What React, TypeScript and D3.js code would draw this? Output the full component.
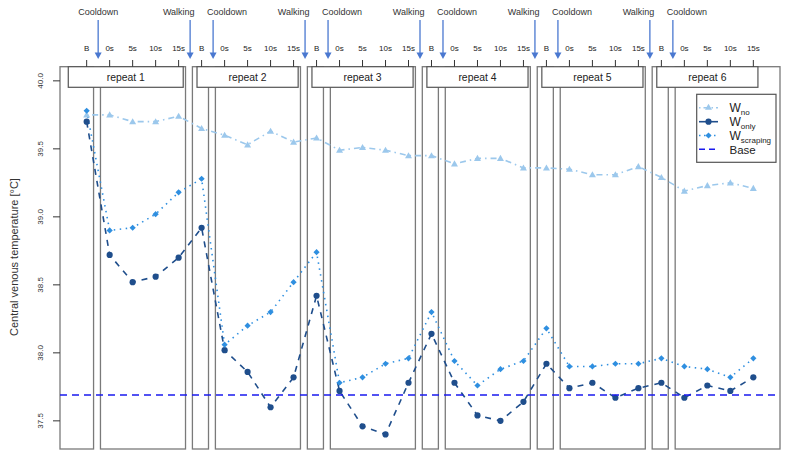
import React from "react";
import * as d3 from "d3";

const repeats = ["repeat 1", "repeat 2", "repeat 3", "repeat 4", "repeat 5", "repeat 6"];
const tickLabels = ["B", "0s", "5s", "10s", "15s"];
const yTicks = [37.5, 38.0, 38.5, 39.0, 39.5, 40.0];

const wNo = [
  39.75, 39.75, 39.70, 39.70, 39.74,
  39.65, 39.60, 39.53, 39.63, 39.55,
  39.58, 39.49, 39.51, 39.49, 39.45,
  39.45, 39.39, 39.43, 39.43, 39.36,
  39.36, 39.35, 39.31, 39.31, 39.37,
  39.29, 39.19, 39.23, 39.25, 39.21,
];
const wOnly = [
  39.70, 38.72, 38.52, 38.56, 38.70,
  38.92, 38.02, 37.86, 37.60, 37.82,
  38.42, 37.72, 37.46, 37.40, 37.78,
  38.14, 37.78, 37.54, 37.50, 37.64,
  37.92, 37.74, 37.78, 37.67, 37.74,
  37.78, 37.67, 37.76, 37.72, 37.82,
];
const wScraping = [
  39.78, 38.90, 38.92, 39.02, 39.18,
  39.28, 38.06, 38.20, 38.30, 38.52,
  38.74, 37.78, 37.82, 37.92, 37.96,
  38.30, 37.94, 37.76, 37.88, 37.94,
  38.18, 37.90, 37.90, 37.92, 37.92,
  37.96, 37.90, 37.88, 37.82, 37.96,
];
const baseValue = 37.69;

const C_NO = "#9cc8ec";
const C_ONLY = "#1f4e8c";
const C_SCR = "#2f8fe0";
const C_BASE = "#1a1aee";
const C_ARROW = "#4a78d0";
const FONT = "'Liberation Sans', Arial, sans-serif";

export default function App() {
  const W = 790, H = 459;
  const x = d3.scaleLinear().domain([-1.16, 30.16]).range([60, 780]);
  const y = d3.scaleLinear().domain([37.293, 40.104]).range([449, 66.7]);
  const top = y(40.104), bottom = y(37.293);
  const idx = d3.range(30);
  const mk = (vals: number[]) =>
    d3.line<number>().x((_, i) => x(i)).y((v) => y(v))(vals) || "";

  const tri = (cx: number, cy: number, s = 3.5) =>
    `M${cx},${cy - s}L${cx + s},${cy + s * 0.75}L${cx - s},${cy + s * 0.75}Z`;
  const dia = (cx: number, cy: number, s = 3.1) =>
    `M${cx},${cy - s}L${cx + s},${cy}L${cx},${cy + s}L${cx - s},${cy}Z`;

  const rects: { x0: number; x1: number }[] = [];
  repeats.forEach((_, r) => {
    rects.push({ x0: r === 0 ? -1.16 : 5 * r - 0.4, x1: 5 * r + 0.3 });
    rects.push({ x0: 5 * r + 0.6, x1: r === 5 ? 30.16 : 5 * r + 4.3 });
  });

  const arrows: { u: number; label: string; anchor: string; dx: number }[] = [];
  repeats.forEach((_, r) => {
    arrows.push({ u: 5 * r + 0.5, label: "Cooldown", anchor: r === 0 ? "middle" : "start", dx: r === 0 ? 0 : -6 });
    if (r < 5) arrows.push({ u: 5 * r + 4.5, label: "Walking", anchor: "end", dx: 4.5 });
  });

  return (
    <svg width={W} height={H} style={{ display: "block", position: "absolute", left: 0, top: 0 }}>
      <rect x={0} y={0} width={W} height={H} fill="#fff" />
      {rects.map((p, i) => (
        <rect key={i} x={x(p.x0)} y={top} width={x(p.x1) - x(p.x0)} height={bottom - top}
          fill="none" stroke="#7a7a7a" strokeWidth={1.3} />
      ))}
      <path d={mk(wNo)} fill="none" stroke={C_NO} strokeWidth={1.6} strokeDasharray="1.5,4,6,4" />
      <path d={mk(wScraping)} fill="none" stroke={C_SCR} strokeWidth={1.6} strokeDasharray="1.5,4.5" />
      <path d={mk(wOnly)} fill="none" stroke={C_ONLY} strokeWidth={1.6} strokeDasharray="6,6" />
      {idx.map((i) => (
        <path key={"n" + i} d={tri(x(i), y(wNo[i]))} fill={C_NO} />
      ))}
      {idx.map((i) => (
        <circle key={"o" + i} cx={x(i)} cy={y(wOnly[i])} r={3.1} fill={C_ONLY} />
      ))}
      {idx.map((i) => (
        <path key={"s" + i} d={dia(x(i), y(wScraping[i]))} fill={C_SCR} />
      ))}
      <line x1={60} x2={780} y1={y(baseValue)} y2={y(baseValue)} stroke={C_BASE}
        strokeWidth={1.6} strokeDasharray="7,5" />
      {repeats.map((lab, r) => {
        const x0 = x(r === 0 ? -0.8 : 5 * r - 0.2);
        const x1 = x(5 * r + 4.2);
        return (
          <g key={lab}>
            <rect x={x0} y={top} width={x1 - x0} height={20.6} fill="#fff" stroke="#555" strokeWidth={1.2} />
            <text x={(x0 + x1) / 2} y={top + 14.2} textAnchor="middle" fontFamily={FONT} fontSize={10.4} fill="#222">{lab}</text>
          </g>
        );
      })}
      {idx.map((i) => (
        <g key={"t" + i}>
          <line x1={x(i)} x2={x(i)} y1={60} y2={top} stroke="#333" strokeWidth={1} />
          <text x={x(i)} y={50.5} textAnchor="middle" fontFamily={FONT} fontSize={8} fill="#222">{tickLabels[i % 5]}</text>
        </g>
      ))}
      {arrows.map((a, i) => {
        const ax = x(a.u);
        return (
          <g key={"a" + i}>
            <line x1={ax} x2={ax} y1={20} y2={53} stroke={C_ARROW} strokeWidth={1.3} />
            <path d={`M${ax - 3.5},${52.5}L${ax + 3.5},${52.5}L${ax},${59}Z`} fill={C_ARROW} />
            <text x={ax + a.dx} y={14.5} textAnchor={a.anchor as any} fontFamily={FONT} fontSize={9} fill="#333">{a.label}</text>
          </g>
        );
      })}
      {yTicks.map((t) => (
        <g key={"y" + t}>
          <line x1={53} x2={60} y1={y(t)} y2={y(t)} stroke="#333" strokeWidth={1} />
          <text transform={`translate(42.5,${y(t)}) rotate(-90)`} textAnchor="middle" fontFamily={FONT} fontSize={8} fill="#333">{t.toFixed(1)}</text>
        </g>
      ))}
      <text transform={`translate(18,257) rotate(-90)`} textAnchor="middle" fontFamily={FONT} fontSize={11} fill="#333">Central venous temperature [°C]</text>
      <g>
        <rect x={696.7} y={94.3} width={79.3} height={68} fill="#fff" stroke="#555" strokeWidth={1.2} />
        <line x1={699} x2={718} y1={107.7} y2={107.7} stroke={C_NO} strokeWidth={1.6} strokeDasharray="1.5,3,5,3" />
        <path d={tri(708.5, 107.2)} fill={C_NO} />
        <line x1={699} x2={718} y1={121.7} y2={121.7} stroke={C_ONLY} strokeWidth={1.6} />
        <circle cx={708.5} cy={121.7} r={3.1} fill={C_ONLY} />
        <line x1={699} x2={718} y1={135.5} y2={135.5} stroke={C_SCR} strokeWidth={1.6} strokeDasharray="1.5,3.5" />
        <path d={dia(708.5, 135.5)} fill={C_SCR} />
        <line x1={699} x2={718} y1={149.3} y2={149.3} stroke={C_BASE} strokeWidth={1.6} strokeDasharray="6,4" />
        {[
          ["W", "no", 112],
          ["W", "only", 126],
          ["W", "scraping", 140],
        ].map(([m, s, yy]) => (
          <text key={s as string} x={729.5} y={yy as number} fontFamily={FONT} fontSize={12} fill="#222">
            {m}
            <tspan fontSize={8} dy={3}>{s}</tspan>
          </text>
        ))}
        <text x={729.5} y={153.5} fontFamily={FONT} fontSize={11.5} fill="#222">Base</text>
      </g>
    </svg>
  );
}
